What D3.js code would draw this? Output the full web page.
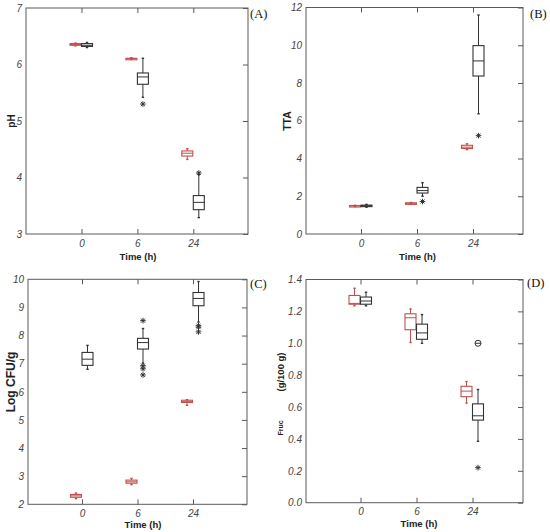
<!DOCTYPE html>
<html>
<head>
<meta charset="utf-8">
<script src="https://cdn.jsdelivr.net/npm/d3@7"></script>
<style>
  html, body { margin: 0; padding: 0; background: #fff; }
  svg { display: block; }
</style>
</head>
<body>
<svg id="chart" width="550" height="532"></svg>
<script>
// ---------- DATA ----------
const times = ["0", "6", "24"];
// each entry: [min, q1, median, q3, max]
const pHRed = [[6.33, 6.34, 6.355, 6.37, 6.38], [6.09, 6.10, 6.105, 6.11, 6.12], [4.32, 4.38, 4.43, 4.47, 4.51]];
const pHBlack = [[6.30, 6.32, 6.34, 6.37, 6.39], [5.42, 5.65, 5.78, 5.85, 6.11], [3.29, 3.43, 3.56, 3.68, 4.05]];
const pHBlackOut = [[], [5.30], [4.08]];

const ttaRed = [[1.45, 1.47, 1.49, 1.51, 1.52], [1.60, 1.62, 1.63, 1.65, 1.67], [4.47, 4.53, 4.60, 4.70, 4.78]];
const ttaBlack = [[1.42, 1.47, 1.50, 1.53, 1.57], [2.00, 2.17, 2.30, 2.47, 2.72], [6.37, 8.37, 9.17, 9.98, 11.6]];
const ttaBlackOut = [[], [1.72], [5.21]];

const cfuRed = [[2.20, 2.25, 2.30, 2.35, 2.40], [2.70, 2.75, 2.80, 2.86, 2.92], [5.52, 5.62, 5.65, 5.70, 5.72]];
const cfuBlack = [[6.80, 6.94, 7.16, 7.40, 7.65], [7.02, 7.52, 7.75, 7.90, 8.25], [8.48, 9.06, 9.32, 9.53, 9.92]];
const cfuBlackOut = [[], [8.53, 6.93, 6.82, 6.60], [8.35, 8.30, 8.13]];

const frucRed = [[1.235, 1.245, 1.25, 1.30, 1.345], [1.005, 1.085, 1.16, 1.185, 1.215], [0.625, 0.665, 0.70, 0.73, 0.76]];
const frucBlack = [[1.235, 1.245, 1.265, 1.29, 1.32], [1.00, 1.025, 1.065, 1.12, 1.18], [0.385, 0.518, 0.545, 0.62, 0.71]];
const frucBlackOut = [[], [], [0.22]];
const frucBlackFar = [[], [], [1.00]];

const pHTicks = [3, 4, 5, 6, 7];
const ttaTicks = [0, 2, 4, 6, 8, 10, 12];
const cfuTicks = [2, 3, 4, 5, 6, 7, 8, 9, 10];
const frucTicks = [0.0, 0.2, 0.4, 0.6, 0.8, 1.0, 1.2, 1.4];

// ---------- LAYOUT ----------
const RED = "#c0504d", BLACK = "#333333", FRAME = "#5a5a5a", TICKTXT = "#444";
const svg = d3.select("#chart");

const panels = [
  { tag: "(A)", tagX: 250, tagY: 18, left: 26, right: 248, top: 8, bottom: 234, cat: [81.5, 193.3],
    domain: [3, 7], ticks: pHTicks, fmt: d3.format("d"), red: pHRed, black: pHBlack, blackOut: pHBlackOut, blackFar: [[], [], []],
    xlabX: 138, xlabY: 260, ylab: [{ t: "pH", x: 11, y: 121, size: 10 }] },
  { tag: "(B)", tagX: 530, tagY: 18, left: 306, right: 523, top: 7.5, bottom: 234, cat: [361, 473],
    domain: [0, 12], ticks: ttaTicks, fmt: d3.format("d"), red: ttaRed, black: ttaBlack, blackOut: ttaBlackOut, blackFar: [[], [], []],
    xlabX: 417.5, xlabY: 260, ylab: [{ t: "TTA", x: 287, y: 121, size: 10.5 }] },
  { tag: "(C)", tagX: 250, tagY: 288, left: 28, right: 247, top: 279.3, bottom: 504.3, cat: [82, 193],
    domain: [2, 10], ticks: cfuTicks, fmt: d3.format("d"), red: cfuRed, black: cfuBlack, blackOut: cfuBlackOut, blackFar: [[], [], []],
    xlabX: 143, xlabY: 528, ylab: [{ t: "Log CFU/g", x: 11, y: 382, size: 12 }] },
  { tag: "(D)", tagX: 527, tagY: 287, left: 306, right: 523, top: 279.5, bottom: 502.7, cat: [360.5, 472.5],
    domain: [0, 1.4], ticks: frucTicks, fmt: d3.format(".1f"), red: frucRed, black: frucBlack, blackOut: frucBlackOut, blackFar: frucBlackFar,
    xlabX: 419, xlabY: 527, ylab: [{ t: "(g/100 g)", x: 281, y: 372, size: 9.5 }, { t: "Fruc", x: 281, y: 428, size: 7 }] }
];

const boxW = 11, redOff = -6, blackOff = 5.5, tickLen = 5;

function asterisk(g, cx, cy) {
  const r = 2.8;
  [0, 45, 90, 135].forEach(a => {
    const rad = a * Math.PI / 180;
    g.append("line")
      .attr("x1", cx - r * Math.cos(rad)).attr("y1", cy - r * Math.sin(rad))
      .attr("x2", cx + r * Math.cos(rad)).attr("y2", cy + r * Math.sin(rad))
      .attr("stroke", BLACK).attr("stroke-width", 1);
  });
}

function drawBox(g, cx, stats, y, color) {
  const [mn, q1, md, q3, mx] = stats;
  g.append("line").attr("x1", cx).attr("x2", cx).attr("y1", y(mx)).attr("y2", y(q3))
    .attr("stroke", color).attr("stroke-width", 1);
  g.append("line").attr("x1", cx).attr("x2", cx).attr("y1", y(q1)).attr("y2", y(mn))
    .attr("stroke", color).attr("stroke-width", 1);
  [mn, mx].forEach(v => g.append("line").attr("x1", cx - 1.2).attr("x2", cx + 1.2)
    .attr("y1", y(v)).attr("y2", y(v)).attr("stroke", color).attr("stroke-width", 1.4));
  const h = Math.max(y(q1) - y(q3), 1.5);
  g.append("rect").attr("x", cx - boxW / 2).attr("y", y(q3)).attr("width", boxW).attr("height", h)
    .attr("fill", "none").attr("stroke", color).attr("stroke-width", 1.1);
  g.append("line").attr("x1", cx - boxW / 2).attr("x2", cx + boxW / 2).attr("y1", y(md)).attr("y2", y(md))
    .attr("stroke", color).attr("stroke-width", 1);
}

panels.forEach(p => {
  const g = svg.append("g");
  const y = d3.scaleLinear().domain(p.domain).range([p.bottom, p.top]);
  const x = d3.scaleLinear().domain([0, times.length - 1]).range(p.cat);

  // frame
  g.append("rect").attr("x", p.left).attr("y", p.top).attr("width", p.right - p.left).attr("height", p.bottom - p.top)
    .attr("fill", "none").attr("stroke", FRAME).attr("stroke-width", 1);

  // bottom axis (inward ticks) and top mirrored ticks
  const xAxis = d3.axisBottom(x).tickValues(d3.range(times.length)).tickFormat(i => times[i])
    .tickSizeInner(-tickLen).tickSizeOuter(0).tickPadding(5.5);
  const xa = g.append("g").attr("transform", `translate(0,${p.bottom})`).call(xAxis);
  xa.select(".domain").remove();
  xa.selectAll("line").attr("stroke", FRAME);
  xa.selectAll("text").attr("font-family", "Liberation Sans, Arial, sans-serif").attr("font-style", "italic")
    .attr("font-size", 10).attr("fill", TICKTXT);
  const xt = g.append("g").attr("transform", `translate(0,${p.top})`)
    .call(d3.axisTop(x).tickValues(d3.range(times.length)).tickFormat("").tickSizeInner(-tickLen).tickSizeOuter(0));
  xt.select(".domain").remove();
  xt.selectAll("line").attr("stroke", FRAME);

  // left labels, right inward ticks
  const ya = g.append("g").attr("transform", `translate(${p.left},0)`)
    .call(d3.axisLeft(y).tickValues(p.ticks).tickFormat(p.fmt).tickSize(0).tickPadding(4));
  ya.select(".domain").remove();
  ya.selectAll("text").attr("font-family", "Liberation Sans, Arial, sans-serif").attr("font-style", "italic")
    .attr("font-size", 10).attr("fill", TICKTXT);
  const yr = g.append("g").attr("transform", `translate(${p.right},0)`)
    .call(d3.axisRight(y).tickValues(p.ticks).tickFormat("").tickSizeInner(-tickLen).tickSizeOuter(0));
  yr.select(".domain").remove();
  yr.selectAll("line").attr("stroke", FRAME);

  // boxes
  times.forEach((t, i) => {
    drawBox(g, x(i) + redOff, p.red[i], y, RED);
    drawBox(g, x(i) + blackOff, p.black[i], y, BLACK);
    p.blackOut[i].forEach(v => asterisk(g, x(i) + blackOff, y(v)));
    p.blackFar[i].forEach(v => {
      g.append("circle").attr("cx", x(i) + blackOff).attr("cy", y(v)).attr("r", 3)
        .attr("fill", "none").attr("stroke", BLACK).attr("stroke-width", 1);
      g.append("line").attr("x1", x(i) + blackOff - 3).attr("x2", x(i) + blackOff + 3)
        .attr("y1", y(v)).attr("y2", y(v)).attr("stroke", BLACK).attr("stroke-width", 1);
    });
  });

  // axis titles
  g.append("text").attr("x", p.xlabX).attr("y", p.xlabY).attr("text-anchor", "middle")
    .attr("font-family", "Liberation Sans, Arial, sans-serif").attr("font-weight", "bold")
    .attr("font-size", 9.5).attr("fill", "#222").text("Time (h)");
  p.ylab.forEach(l => {
    g.append("text").attr("transform", `translate(${l.x},${l.y}) rotate(-90)`).attr("text-anchor", "middle")
      .attr("dy", "0.35em").attr("font-family", "Liberation Sans, Arial, sans-serif").attr("font-weight", "bold")
      .attr("font-size", l.size).attr("fill", "#222").text(l.t);
  });

  // panel tag
  g.append("text").attr("x", p.tagX).attr("y", p.tagY)
    .attr("font-family", "Liberation Serif, Times New Roman, serif").attr("font-size", 12.5)
    .attr("fill", "#111").text(p.tag);
});
</script>
</body>
</html>
